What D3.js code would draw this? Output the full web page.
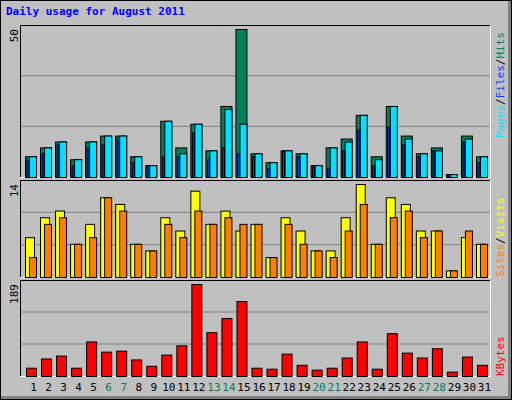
<!DOCTYPE html><html><head><meta charset="utf-8"><script src="https://cdn.jsdelivr.net/npm/d3@7"></script>
<style>body{margin:0;background:#fff}</style></head><body><script>
const days=d3.range(1,32);
const weekend=[6,7,13,14,20,21,27,28];
const hits=[7,10,12,6,12,14,14,7,4,19,10,18,9,24,50,8,5,9,8,4,10,13,21,7,24,14,8,10,1,14,7];
const files=[7,10,12,6,12,14,14,7,4,19,8,18,9,23,18,8,5,9,8,4,10,12,21,6,24,13,8,9,1,13,7];
const pages=[6,8,11,4,10,11,13,5,4,7,7,15,6,10,8,7,3,9,7,4,3,9,16,4,17,11,7,9,1,12,5];
const visits=[6,9,10,5,8,12,11,5,4,9,7,13,8,10,7,8,3,9,7,4,4,9,14,5,12,11,7,7,1,6,5];
const sites=[3,8,9,5,6,12,10,5,4,8,6,10,8,9,8,8,3,8,5,4,3,7,11,5,9,10,6,7,1,7,5];
const kbytes=[17,36,42,17,71,50,52,34,21,44,63,189,90,119,154,17,15,46,23,13,17,38,71,15,88,48,38,57,9,40,23];

const W=512,H=400;
const svg=d3.select("body").append("svg").attr("width",W).attr("height",H);
svg.append("rect").attr("width",W).attr("height",H).attr("fill","#c0c0c0");
// bevel
svg.append("path").attr("d","M0.5,399.5V0.5H511.5").attr("stroke","#fff").attr("fill","none");
svg.append("path").attr("d","M1,397.5H509.5V1").attr("stroke","#808080").attr("stroke-width",3).attr("fill","none");
svg.append("rect").attr("x",0.5).attr("y",0.5).attr("width",511).attr("height",399).attr("fill","none").attr("stroke","#000");

svg.append("text").attr("x",6).attr("y",15).text("Daily usage for August 2011")
 .attr("font-family","DejaVu Sans Mono").attr("font-weight","bold").attr("font-size",11).attr("fill","#0000ff");

const x=d3.scaleBand().domain(days).range([20,486]).padding(0);
const L=20,R=490;
function panel(top,bot,max){
  svg.append("rect").attr("x",L).attr("y",top).attr("width",R-L).attr("height",bot-top).attr("fill","#c0c0c0");
  const y=d3.scaleLinear().domain([0,max]).range([bot,top+4]);
  const h=bot-top;
  [1,2].forEach(k=>svg.append("line").attr("x1",L).attr("x2",R).attr("y1",bot-h*k/3).attr("y2",bot-h*k/3).attr("stroke","#808080"));
  svg.append("path").attr("d",`M${L+0.5},${bot}V${top+0.5}H${R}`).attr("stroke","#000").attr("fill","none");
  svg.append("path").attr("d",`M${L},${bot+0.5}H${R+0.5}V${top}`).attr("stroke","#fff").attr("fill","none");
  svg.append("text").attr("transform",`translate(18,${top+4}) rotate(-90)`).attr("text-anchor","end")
   .attr("font-family","DejaVu Sans Mono").attr("font-size",11).text(max);
  return y;
}
function bars(data,y,x0,w,col){
  svg.append("g").selectAll("rect").data(data).join("rect")
   .attr("x",(d,i)=>x(days[i])+x0+0.5).attr("width",w)
   .attr("y",d=>y(d)+0.5).attr("height",d=>Math.max(0,y(0)-y(d)))
   .attr("fill",col).attr("stroke","#000");
}
const y1=panel(25,177,50);
bars(hits,y1,5,11,"#00805c");
bars(files,y1,9,7,"#00e0ff");
bars(pages,y1,6.5,2,"#0040ff");
const y2=panel(180,277,14);
bars(visits,y2,5,9,"#ffff00");
bars(sites,y2,9,7,"#ff8000");
const y3=panel(280,376,189);
bars(kbytes,y3,6,10,"#ff0000");

svg.append("g").selectAll("text").data(days).join("text")
 .attr("x",d=>x(d)+x.bandwidth()/2+6).attr("y",391).attr("text-anchor","middle")
 .attr("font-family","DejaVu Sans Mono").attr("font-size",11)
 .attr("fill",d=>weekend.includes(d)?"#00805c":"#000").text(d=>d);

function side(yBottom,parts){
  const t=svg.append("text").attr("transform",`translate(504,${yBottom}) rotate(-90)`)
   .attr("font-family","DejaVu Sans Mono").attr("font-size",11);
  parts.forEach(([s,c])=>t.append("tspan").attr("fill",c).text(s));
}
side(138,[["Pages","#00e0ff"],["/","#000"],["Files","#0040ff"],["/","#000"],["Hits","#00805c"]]);
side(277,[["Sites","#ff8000"],["/","#000"],["Visits","#ffff00"]]);
side(376,[["KBytes","#ff0000"]]);
</script></body></html>
